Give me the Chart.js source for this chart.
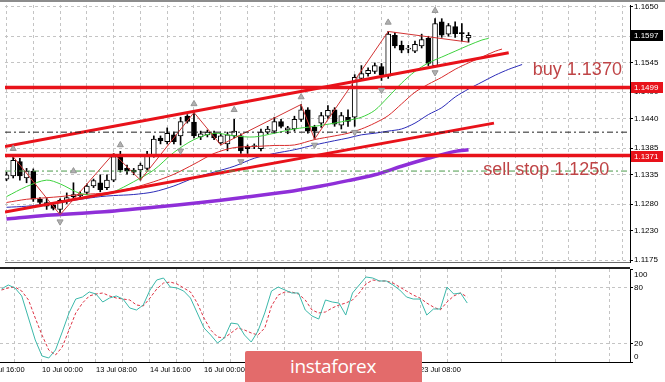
<!DOCTYPE html>
<html>
<head>
<meta charset="utf-8">
<script src="https://cdn.jsdelivr.net/npm/chart.js@4.4.1/dist/chart.umd.min.js"></script>
<style>
    html, body { margin: 0; padding: 0; background: #fff; }
    #wrap { position: relative; width: 665px; height: 382px; overflow: hidden; background: #fff; }
    #mainChart { position: absolute; left: 0; top: 0; }
    #stochChart { position: absolute; left: 0; top: 267px; }
    #topbar { position: absolute; left: 0; top: 0; width: 665px; height: 2px; background: #8c8c8c; }
    #brand {
        position: absolute; left: 245px; top: 351px; width: 177px; height: 31px;
        background: #e36b6b; color: #fff; box-sizing: border-box; padding-left: 45px;
        font: 19px 'Open Sans', 'Liberation Sans', sans-serif; line-height: 31px; letter-spacing: -0.3px;
        border-radius: 2px 2px 0 0;
    }
</style>
</head>
<body>
<div id="wrap">
    <canvas id="mainChart" width="665" height="267"></canvas>
    <canvas id="stochChart" width="665" height="115"></canvas>
    <div id="topbar"></div>
    <div id="brand">instaforex</div>
</div>
<script>
// --- DATA (H4 bars, bar 0 = 8 Jul 16:00) ---
const firstBar = 2;
const opens = [1.1327,1.1333,1.1360,1.1329,1.1342,1.1289,1.1283,1.1278,1.1270,1.1285,
    1.1294,1.1296,1.1302,1.1314,1.1320,1.1311,1.1325,1.1371,1.1347,1.1344,
    1.1344,1.1347,1.1371,1.1404,1.1397,1.1410,1.1408,1.1445,1.1434,1.1406,
    1.1410,1.1413,1.1395,1.1393,1.1408,1.1408,1.1388,1.1388,1.1384,1.1415,
    1.1417,1.1435,1.1419,1.1421,1.1439,1.1457,1.1424,1.1432,1.1445,1.1457,
    1.1428,1.1443,1.1443,1.1516,1.1525,1.1529,1.1538,1.1520,1.1597,1.1578,
    1.1571,1.1567,1.1577,1.1591,1.1540,1.1622,1.1599,1.1613,1.1601,1.1592];
const highs = [1.1340,1.1369,1.1366,1.1347,1.1346,1.1292,1.1292,1.1281,1.1290,1.1301,
    1.1320,1.1303,1.1318,1.1327,1.1335,1.1335,1.1375,1.1379,1.1353,1.1347,
    1.1357,1.1379,1.1408,1.1408,1.1423,1.1415,1.1443,1.1448,1.1452,1.1417,
    1.1419,1.1417,1.1412,1.1415,1.1439,1.1412,1.1391,1.1393,1.1421,1.1426,
    1.1443,1.1439,1.1426,1.1445,1.1467,1.1461,1.1428,1.1452,1.1465,1.1461,
    1.1452,1.1457,1.1523,1.1540,1.1536,1.1545,1.1544,1.1604,1.1602,1.1586,
    1.1578,1.1586,1.1599,1.1595,1.1628,1.1628,1.1619,1.1622,1.1619,1.1602];
const lows = [1.1324,1.1329,1.1325,1.1320,1.1285,1.1280,1.1270,1.1269,1.1260,1.1281,
    1.1290,1.1292,1.1298,1.1311,1.1303,1.1307,1.1322,1.1340,1.1336,1.1335,
    1.1325,1.1344,1.1368,1.1393,1.1393,1.1393,1.1391,1.1432,1.1404,1.1401,
    1.1406,1.1401,1.1391,1.1380,1.1404,1.1375,1.1375,1.1384,1.1380,1.1412,
    1.1413,1.1423,1.1412,1.1417,1.1435,1.1413,1.1402,1.1424,1.1441,1.1426,
    1.1421,1.1426,1.1426,1.1512,1.1520,1.1525,1.1512,1.1516,1.1573,1.1564,
    1.1564,1.1564,1.1573,1.1540,1.1538,1.1593,1.1595,1.1593,1.1586,1.1584];
const closes = [1.1335,1.1362,1.1333,1.1342,1.1289,1.1283,1.1276,1.1272,1.1287,1.1292,
    1.1298,1.1298,1.1314,1.1324,1.1307,1.1325,1.1369,1.1344,1.1342,1.1340,
    1.1353,1.1371,1.1402,1.1399,1.1413,1.1397,1.1435,1.1435,1.1408,1.1412,
    1.1415,1.1404,1.1408,1.1410,1.1417,1.1380,1.1384,1.1390,1.1415,1.1421,
    1.1435,1.1426,1.1423,1.1439,1.1457,1.1417,1.1417,1.1446,1.1456,1.1430,
    1.1446,1.1435,1.1518,1.1525,1.1531,1.1540,1.1522,1.1599,1.1577,1.1569,
    1.1572,1.1580,1.1589,1.1544,1.1619,1.1597,1.1615,1.1600,1.1600,1.1597];

// stochastic %K and %D, same bars
const stochK = [78.5,82.8,79.6,71,47.3,23.7,6.5,4.3,12.9,32.3,
    52.7,67.7,69.9,75.3,73.1,64.5,68.8,71,67.7,58.1,
    55.9,61.3,77.4,88.2,90.3,80.6,79.6,76.3,68.8,52.7,
    36.6,29,20.4,25.8,41.9,40.9,29,21.5,33.3,52.7,
    76.3,80.6,77.4,74.2,74.2,55.9,49.5,46.2,66.7,64.5,
    63.4,50.5,74.2,82.8,91.4,90.3,87.1,87.1,82.8,77.4,
    69.9,67.7,67.7,50.5,57,57,80.6,73.1,74.2,63.4];
const stochD = [77.4,79.6,80.6,76.3,66.7,47.3,29,12.9,7.5,16.1,
    34.4,52.7,63.4,71,73.1,74.2,71,68.8,67.7,66.7,
    61.3,60.2,68.8,78.5,84.9,86,83.9,79.6,75.3,63.4,
    47.3,34.4,26.9,25.8,31.2,36.6,34.4,31.2,29,36.6,
    60.2,72,75.3,75.3,73.1,66.7,55.9,52.7,53.8,58.1,
    61.3,63.4,66.7,74.2,83.9,88.2,87.1,87.1,84.9,80.6,
    76.3,72,68.8,63.4,59.1,55.9,64.5,71,74.2,69.9];

// moving averages: [bar, price]
const maFast = [[2,1.1294],[5,1.1313],[8,1.1325],[10,1.1318],[13,1.1300],[16,1.1296],[18,1.1303],
    [21,1.1322],[24,1.1344],[27,1.1377],[30,1.1401],[33,1.1413],[36,1.1408],[39,1.1406],[42,1.1413],
    [45,1.1421],[48,1.1426],[51,1.1432],[53,1.1437],[55,1.1443],[57,1.1456],[59,1.1481],[61,1.1507],
    [63,1.1529],[65,1.1545],[67,1.1556],[69,1.1567],[71,1.1578],[73,1.1588],[74,1.1591]];
const maMid = [[2,1.1283],[5,1.1289],[8,1.1292],[10,1.1294],[13,1.1298],[16,1.1300],[18,1.1303],
    [21,1.1311],[24,1.1322],[27,1.1336],[30,1.1355],[33,1.1375],[36,1.1386],[39,1.1388],[42,1.1390],
    [45,1.1391],[48,1.1401],[51,1.1408],[53,1.1413],[55,1.1421],[57,1.1432],[59,1.1446],[61,1.1468],
    [63,1.1490],[65,1.1505],[67,1.1518],[69,1.1533],[71,1.1545],[73,1.1556],[75,1.1567],[76,1.1571]];
const maSlow = [[2,1.1274],[5,1.1276],[8,1.1280],[10,1.1283],[13,1.1289],[16,1.1294],[18,1.1296],
    [21,1.1298],[24,1.1303],[27,1.1314],[30,1.1329],[33,1.1340],[36,1.1351],[39,1.1366],[42,1.1375],
    [45,1.1382],[48,1.1391],[51,1.1399],[53,1.1404],[55,1.1410],[57,1.1413],[59,1.1417],[61,1.1421],
    [63,1.1432],[65,1.1448],[67,1.1461],[69,1.1481],[71,1.1496],[73,1.1509],[75,1.1522],[77,1.1533],[79,1.1542]];
const maLong = [[2,1.1252],[8,1.1259],[16,1.1265],[24,1.1274],[31,1.1283],[37,1.1292],[44,1.1303],
    [49,1.1314],[53,1.1324],[57,1.1335],[61,1.1351],[65,1.1366],[69,1.1379],[71,1.1382]];

// zigzag pivots and fractals
const zigzag = [[3,1.1369],[10,1.1260],[18,1.1375],[22,1.1325],[30,1.1452],[34,1.1391],
    [46,1.1467],[48,1.1402],[59,1.1604],[71,1.1584]];
const fractalUp = [[3,1.1384],[12,1.1342],[19,1.1391],[30,1.1468],[36,1.1457],[46,1.1481],[59,1.1621],[66,1.1643]];
const fractalDown = [[10,1.1247],[28,1.1380],[37,1.1360],[48,1.1391],[54,1.1415],[58,1.1494],[66,1.1527]];

// channel trend lines
const channelTop = [[1.78,1.1388],[77.0,1.1564]];
const channelBottom = [[1.78,1.1265],[74.8,1.1432]];

// levels
const lastPrice = 1.1597;
const buyLevel = 1.1499;
const sellLevel = 1.1371;
const pivotLevel = 1.1415;
const stopLevel = 1.1342;

const noteText = ['buy 1.1370', 'sell stop 1.1250'];
const noteBar = [80.6, 73.2];
const notePrice = [1.1532, 1.1343];

const timeLabels = ['8 Jul 16:00','10 Jul 00:00','13 Jul 08:00','14 Jul 16:00','16 Jul 00:00',
    '17 Jul 08:00','20 Jul 16:00','22 Jul 00:00','23 Jul 08:00'];
const priceTicks = [1.1650,1.1595,1.1545,1.1490,1.1440,1.1385,1.1335,1.1280,1.1230,1.1175];
const stochTicks = [100, 80, 20, 0];

// --- VIEW ---
const X_MIN = 1.7778, X_MAX = 95.1111;
const Y_MIN = 1.11713, Y_MAX = 1.16537;
const FONT = '"Liberation Sans", Arial, sans-serif';
const RED = '#e8121a';
const GRID = '#c4c4c4';

const gridBars = [];
for (let b = 0; b < X_MAX; b += 4) gridBars.push(b);

const pts = arr => arr.map(([x, y]) => ({ x, y }));
const hLine = v => [{ x: X_MIN, y: v }, { x: X_MAX, y: v }];
const barsX = opens.map((o, k) => firstBar + k);

function lineSet(data, color, width, order, extra) {
    return Object.assign({ type: 'line', data, borderColor: color, borderWidth: width,
        pointRadius: 0, fill: false, tension: 0, order }, extra || {});
}

// --- PLUGINS ---
const priceTagPlugin = {
    id: 'priceTags',
    afterDraw(chart) {
        const { ctx, chartArea, scales: { x, y } } = chart;
        ctx.save();
        ctx.font = '18px ' + FONT;
        ctx.fillStyle = '#bf4446';
        ctx.textBaseline = 'middle';
        noteText.forEach((t, k) => {
            ctx.fillText(t, x.getPixelForValue(noteBar[k]), y.getPixelForValue(notePrice[k]));
        });

        const tags = [[lastPrice, '#000'], [buyLevel, RED], [sellLevel, RED]];
        ctx.font = '8px ' + FONT;
        tags.forEach(([p, c]) => {
            const py = Math.round(y.getPixelForValue(p));
            ctx.fillStyle = c;
            ctx.fillRect(chartArea.right + 1, py - 5, 32, 11);
            ctx.fillStyle = '#fff';
            ctx.fillText(p.toFixed(4), chartArea.right + 4, py + 0.5);
        });
        ctx.restore();
    }
};

const stochAxisPlugin = {
    id: 'stochAxis',
    afterDraw(chart) {
        const { ctx, chartArea, scales: { y } } = chart;
        ctx.save();
        ctx.fillStyle = '#222';
        ctx.fillRect(0, chartArea.top - 2, chartArea.right, 2);
        ctx.fillStyle = '#000';
        ctx.font = '8px ' + FONT;
        ctx.textBaseline = 'middle';
        stochTicks.forEach(v => {
            const py = Math.min(Math.max(y.getPixelForValue(v), chartArea.top + 6), chartArea.bottom - 5);
            ctx.fillText(String(v), chartArea.right + 4, py);
        });
        ctx.restore();
    }
};

// --- MAIN PRICE CHART ---
new Chart(document.getElementById('mainChart'), {
    type: 'bar',
    data: {
        datasets: [
            { type: 'bar', data: barsX.map((x, k) => ({ x, y: [lows[k], highs[k]] })),
              backgroundColor: '#000', barThickness: 1, grouped: false, order: 20 },
            { type: 'bar', data: barsX.map((x, k) => ({ x, y: [Math.min(opens[k], closes[k]), Math.max(opens[k], closes[k])] })),
              backgroundColor: barsX.map((x, k) => closes[k] >= opens[k] ? '#fff' : '#000'),
              borderColor: '#000', borderWidth: 1, borderSkipped: false, barThickness: 5,
              minBarLength: 1, grouped: false, order: 19 },
            lineSet(pts(maLong), '#8f2fd8', 3.5, 9, { tension: 0.3 }),
            lineSet(pts(maSlow), '#2b2bb8', 1, 8, { tension: 0.3 }),
            lineSet(pts(maMid), '#d92c2c', 1, 7, { tension: 0.3 }),
            lineSet(pts(maFast), '#3ed23e', 1, 6, { tension: 0.3 }),
            lineSet(pts(zigzag), '#d23434', 1, 5),
            lineSet(pts(channelTop), RED, 3, 4),
            lineSet(pts(channelBottom), RED, 3, 4),
            lineSet(hLine(pivotLevel), '#222', 1, 3, { borderDash: [6, 3, 2, 3] }),
            lineSet(hLine(stopLevel), '#4a9a4a', 1, 3, { borderDash: [6, 3, 2, 3] }),
            lineSet(hLine(buyLevel), RED, 3.5, 2),
            lineSet(hLine(sellLevel), RED, 3.5, 2),
            { type: 'line', data: pts(fractalUp), showLine: false, pointStyle: 'triangle',
              pointRadius: 3.5, pointBackgroundColor: '#b0b0b0', pointBorderColor: '#959595', order: 1 },
            { type: 'line', data: pts(fractalDown), showLine: false, pointStyle: 'triangle', pointRotation: 180,
              pointRadius: 3.5, pointBackgroundColor: '#b0b0b0', pointBorderColor: '#959595', order: 1 }
        ]
    },
    options: {
        responsive: false,
        animation: false,
        events: [],
        layout: { padding: { top: 3, left: 0, right: 0, bottom: 0 } },
        plugins: { legend: { display: false }, tooltip: { enabled: false } },
        scales: {
            x: {
                type: 'linear', min: X_MIN, max: X_MAX, offset: false, bounds: 'data',
                afterBuildTicks: s => { s.ticks = gridBars.map(v => ({ value: v })); },
                afterFit: s => { s.height = 1; s.paddingLeft = 0; s.paddingRight = 0; },
                ticks: { display: false },
                grid: { color: GRID, drawTicks: false },
                border: { display: true, color: '#6a6a6a', dash: [3, 3] }
            },
            y: {
                position: 'right', min: Y_MIN, max: Y_MAX, bounds: 'data',
                afterBuildTicks: s => { s.ticks = priceTicks.map(v => ({ value: v })); },
                afterFit: s => { s.width = 35; s.paddingTop = 0; s.paddingBottom = 0; },
                ticks: { autoSkip: false, padding: 1, color: '#000', font: { family: FONT, size: 8 },
                         callback: v => v.toFixed(4) },
                grid: { color: GRID, tickColor: '#000', tickLength: 3 },
                border: { display: true, color: '#000', dash: [3, 3] }
            }
        }
    },
    plugins: [priceTagPlugin]
});

// --- STOCHASTIC PANE ---
new Chart(document.getElementById('stochChart'), {
    type: 'line',
    data: {
        datasets: [
            lineSet(barsX.map((x, k) => ({ x, y: stochD[k] })), '#dd3344', 1, 2, { borderDash: [3, 2] }),
            lineSet(barsX.map((x, k) => ({ x, y: stochK[k] })), '#3cb8aa', 1, 1)
        ]
    },
    options: {
        responsive: false,
        animation: false,
        events: [],
        layout: { padding: { top: 2, left: 0, right: 0, bottom: 0 } },
        plugins: { legend: { display: false }, tooltip: { enabled: false } },
        scales: {
            x: {
                type: 'linear', min: X_MIN, max: X_MAX, offset: false, bounds: 'data',
                afterBuildTicks: s => { s.ticks = gridBars.map(v => ({ value: v })); },
                afterFit: s => { s.height = 20; s.paddingLeft = 0; s.paddingRight = 0; },
                ticks: { autoSkip: false, maxRotation: 0, align: 'start', padding: 3, color: '#000',
                         font: { family: FONT, size: 7.5 },
                         callback: v => (v % 8 === 0 ? timeLabels[v / 8] : '') },
                grid: { color: GRID, drawTicks: false },
                border: { display: true, color: '#000', dash: [3, 3] }
            },
            y: {
                position: 'right', min: 0, max: 100, bounds: 'data',
                afterBuildTicks: s => { s.ticks = stochTicks.map(v => ({ value: v })); },
                afterFit: s => { s.width = 35; s.paddingTop = 0; s.paddingBottom = 0; },
                ticks: { display: false },
                grid: {
                    color: c => (c.tick && (c.tick.value === 20 || c.tick.value === 80)) ? GRID : 'rgba(0,0,0,0)',
                    tickColor: '#000', tickLength: 3
                },
                border: { display: true, color: '#000', dash: [3, 3] }
            }
        }
    },
    plugins: [stochAxisPlugin]
});
</script>
</body>
</html>
